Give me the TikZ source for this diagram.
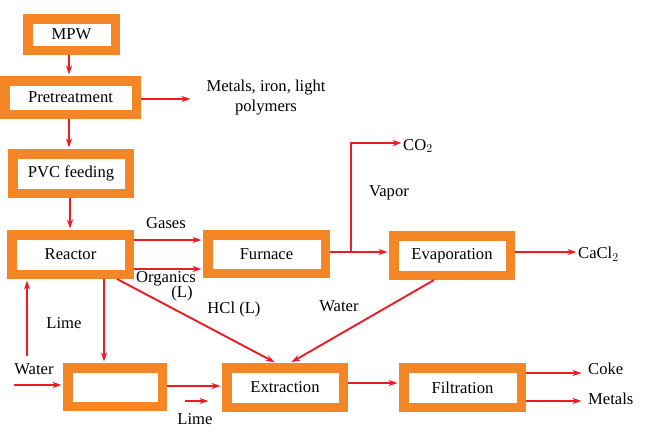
\documentclass[tikz,border=0pt]{standalone}
\usepackage{fontspec}
\setmainfont{Liberation Serif}
\usetikzlibrary{arrows.meta,calc}
\definecolor{boxorange}{RGB}{244,134,38}
\definecolor{flowred}{RGB}{237,28,36}
\begin{document}
\begin{tikzpicture}[x=1pt,y=-1pt,
  font=\fontsize{16.6}{18}\selectfont,
  procbox/.style={draw=boxorange,line width=9.5pt,fill=white,inner sep=0pt},
  flow/.style={draw=flowred,line width=1.9pt,-{Stealth[length=9pt,width=6pt]},shorten >=1.5pt},
  lbl/.style={inner sep=0pt}]
\useasboundingbox (0,0) rectangle (659,432);
% boxes
\node[procbox,minimum width=87.5pt,minimum height=31.5pt] (mpw) at (71.5,34.5) {MPW};
\node[procbox,minimum width=131.5pt,minimum height=33.5pt] (pre) at (70.5,97.5) {Pretreatment};
\node[procbox,minimum width=116.5pt,minimum height=39.5pt] (pvc) at (71,173.5) {PVC feeding};
\node[procbox,minimum width=117.5pt,minimum height=39.5pt] (reac) at (70.5,254.5) {Reactor};
\node[procbox,minimum width=117.5pt,minimum height=38.5pt] (furn) at (266.5,254) {Furnace};
\node[procbox,minimum width=116.5pt,minimum height=39.5pt] (evap) at (452,255.5) {Evaporation};
\node[procbox,minimum width=94.5pt,minimum height=38.5pt] (empty) at (115,387) {};
\node[procbox,minimum width=116.5pt,minimum height=39.5pt] (extr) at (285,387.5) {Extraction};
\node[procbox,minimum width=117.5pt,minimum height=39.5pt] (filt) at (462.5,387.5) {Filtration};
% labels
\node[lbl,align=center] (metals1) at (266,98) {Metals, iron, light\\[2pt]polymers};
\node[lbl] (gases) at (166,223) {Gases};
\node[lbl] (org) at (166,279) {Organics};
\node[lbl] (orgl) at (182,294) {(L)};
\node[lbl] (hcl) at (234,310) {HCl (L)};
\node[lbl] (lime1) at (64,323) {Lime};
\node[lbl] (water1) at (34,369) {Water};
\node[lbl] (lime2) at (195,419) {Lime};
\node[lbl] (water2) at (339,306) {Water};
\node[lbl] (vapor) at (389,193) {Vapor};
\node[lbl,anchor=west] (co2) at (403,146) {CO$_2$};
\node[lbl,anchor=west] (cacl) at (578,254) {CaCl$_2$};
\node[lbl,anchor=west] (coke) at (588,369) {Coke};
\node[lbl,anchor=west] (metals2) at (588,399) {Metals};
% free ends
\coordinate (wup) at (27,356);
\coordinate (win) at (14,385);
\coordinate (limea) at (185,401);
\coordinate (limeb) at (210,401);
\coordinate (branch) at (351,252);
\coordinate (corner) at (351,143);
% connectors
\draw[flow] (mpw.south -| 69,0) -- (pre.north -| 69,0);
\draw[flow] (pre.east |- 0,99) -- (192,99) coordinate (metalsend);
\draw[flow] (pre.south -| 69,0) -- (pvc.north -| 69,0);
\draw[flow] (pvc.south -| 70,0) -- (reac.north -| 70,0);
\draw[flow] (reac.east |- 0,240) -- (furn.west |- 0,240);
\draw[flow] (reac.east |- 0,269) -- (furn.west |- 0,269);
\draw[flow] (reac.south -| 117,0) -- (extr.north -| 276,0);
\draw[flow] (reac.south -| 104,0) -- (empty.north -| 104,0);
\draw[flow] (wup) -- (reac.south -| 27,0);
\draw[flow] (win) -- (empty.west |- 0,385);
\draw[flow] (empty.east |- 0,386) -- (extr.west |- 0,386);
\draw[flow] (limea) -- (limeb);
\draw[flow] (furn.east |- 0,252) -- (evap.west |- 0,252);
\draw[flow] (branch) -- (corner) -- (co2.west |- corner);
\draw[flow] (evap.east |- 0,252) -- (cacl.west |- 0,252);
\draw[flow] (evap.south -| 434,0) -- (extr.north -| 290,0);
\draw[flow] (extr.east |- 0,383) -- (filt.west |- 0,383);
\draw[flow] (filt.east |- 0,373) -- (583,373);
\draw[flow] (filt.east |- 0,401) -- (583,401);
\end{tikzpicture}
\end{document}
